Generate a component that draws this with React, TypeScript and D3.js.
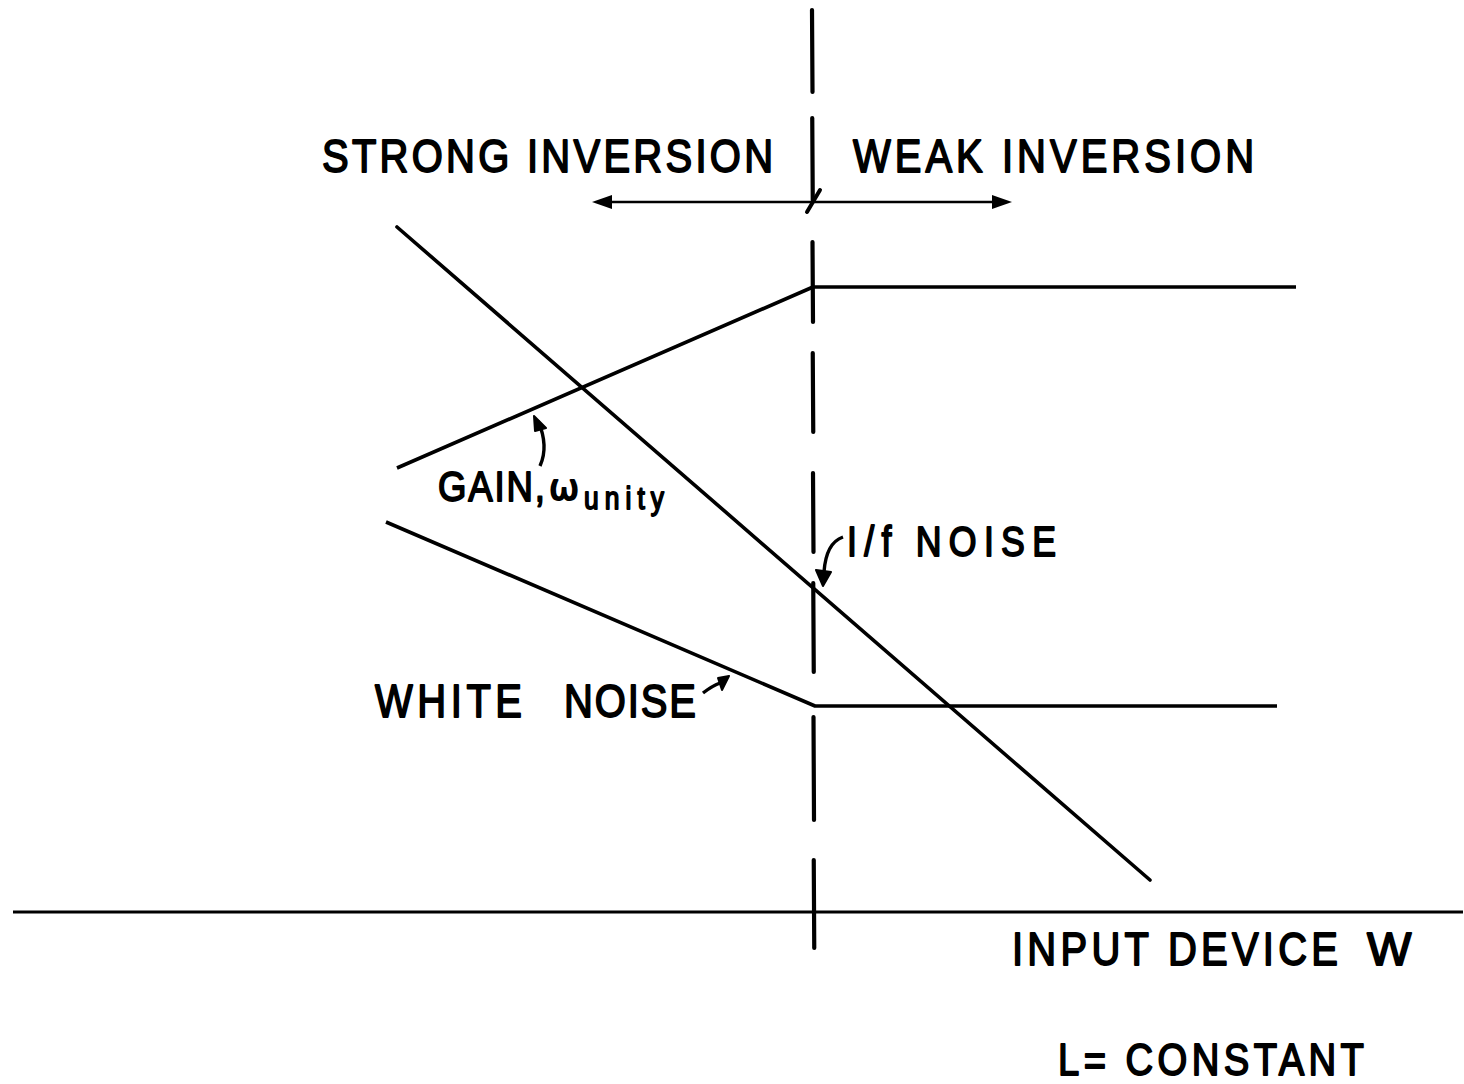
import React from "react";
import * as d3 from "d3";

// Schematic data: x = log(W) relative to the strong/weak inversion boundary, y = log(value)
const gainCurve = [
  { w: -4.16, v: 4.44 },
  { w: 0.0, v: 6.25 },
  { w: 4.83, v: 6.25 },
];
const flickerNoise = [
  { w: -4.16, v: 6.85 },
  { w: 3.37, v: 0.32 },
];
const whiteNoise = [
  { w: -4.27, v: 3.9 },
  { w: 0.02, v: 2.06 },
  { w: 4.64, v: 2.06 },
];
const boundaryDashes = [
  [9.02, 8.2],
  [7.94, 7.12],
  [6.7, 5.9],
  [5.59, 4.8],
  [4.39, 3.6],
  [3.29, 2.4],
  [1.95, 0.92],
  [0.52, -0.36],
];
const regionArrow = { from: -2.21, to: 1.99, v: 7.1 };
const axisExtent = [-8.0, 6.5];
const regionLabels = ["STRONG INVERSION", "WEAK INVERSION"];
const curveLabels = ["GAIN,", "\u03C9", "unity", "I/f NOISE", "WHITE NOISE"];
const axisLabels = ["INPUT DEVICE", "W", "L= CONSTANT"];

const W = 1464;
const H = 1084;
const ink = "#000";
const font = "'Liberation Sans', Arial, sans-serif";

function Label(props: {
  x: number;
  y: number;
  size: number;
  len: number;
  sx?: number;
  family?: string;
  children: string;
}) {
  const sx = props.sx ?? 0.85;
  return (
    <text
      transform={`translate(${props.x},${props.y}) scale(${sx},1)`}
      fontFamily={props.family ?? font}
      fontSize={props.size}
      fill={ink}
      stroke={ink}
      strokeWidth={1.8}
      strokeLinejoin="round"
      textLength={props.len / sx}
      lengthAdjust="spacing"
    >
      {props.children}
    </text>
  );
}

export default function App() {
  const x = d3.scaleLinear().domain([0, 1]).range([813, 913]);
  const y = d3.scaleLinear().domain([0, 1]).range([912, 812]);
  const line = d3
    .line<{ w: number; v: number }>()
    .x((d) => x(d.w))
    .y((d) => y(d.v));

  const ay = y(regionArrow.v);
  const ax0 = x(regionArrow.from);
  const ax1 = x(regionArrow.to);
  const bx = x(0);

  return (
    <svg
      width={W}
      height={H}
      viewBox={`0 0 ${W} ${H}`}
      style={{ position: "absolute", left: 0, top: 0, background: "#fff" }}
    >
      <rect x={0} y={0} width={W} height={H} fill="#fff" />
      {/* baseline */}
      <line
        x1={x(axisExtent[0])}
        x2={x(axisExtent[1])}
        y1={y(0)}
        y2={y(0)}
        stroke={ink}
        strokeWidth={3.2}
      />
      {/* boundary dashes */}
      {boundaryDashes.map((d, i) => (
        <line
          key={i}
          x1={bx - 1 + (i * 2) / 8}
          x2={bx - 1 + (i * 2) / 8 + 0.5}
          y1={y(d[0])}
          y2={y(d[1])}
          stroke={ink}
          strokeWidth={4.2}
          strokeLinecap="round"
        />
      ))}
      {/* slash on arrow line */}
      <line x1={bx + 7} y1={ay - 12} x2={bx - 6} y2={ay + 10} stroke={ink} strokeWidth={4} strokeLinecap="round" />
      {/* region arrow */}
      <line x1={ax0 + 10} x2={ax1 - 10} y1={ay} y2={ay} stroke={ink} strokeWidth={2.6} />
      <path d={`M${ax0},${ay} L${ax0 + 20},${ay - 7} L${ax0 + 20},${ay + 7} Z`} fill={ink} />
      <path d={`M${ax1},${ay} L${ax1 - 20},${ay - 7} L${ax1 - 20},${ay + 7} Z`} fill={ink} />

      {/* curves */}
      <path d={line(gainCurve) || ""} fill="none" stroke={ink} strokeWidth={3.6} strokeLinejoin="round" />
      <path d={line(flickerNoise) || ""} fill="none" stroke={ink} strokeWidth={3.6} strokeLinecap="round" />
      <path d={line(whiteNoise) || ""} fill="none" stroke={ink} strokeWidth={3.6} strokeLinejoin="round" />

      {/* region labels */}
      <Label x={322} y={172} size={47} len={451}>{regionLabels[0]}</Label>
      <Label x={853} y={172} size={47} len={401}>{regionLabels[1]}</Label>

      {/* gain label */}
      <Label x={438} y={501} size={43} len={107}>{curveLabels[0]}</Label>
      <Label x={549} y={500} size={36} len={33} sx={1} family="'DejaVu Sans', sans-serif">
        {curveLabels[1]}
      </Label>
      <Label x={584} y={509} size={31} len={80}>{curveLabels[2]}</Label>
      <path d="M540,466 Q549,446 538,421" fill="none" stroke={ink} strokeWidth={3.4} />
      <path d="M534,416 L546,428 L535,431 Z" fill={ink} stroke={ink} strokeWidth={2} strokeLinejoin="round" />

      {/* 1/f label */}
      <Label x={847} y={556} size={42} len={209}>{curveLabels[3]}</Label>
      <path d="M843,537 Q826,543 824,572" fill="none" stroke={ink} strokeWidth={3.4} />
      <path d="M823,586 L816,570 L831,572 Z" fill={ink} stroke={ink} strokeWidth={2} strokeLinejoin="round" />

      {/* white noise label */}
      <Label x={375} y={717} size={47} len={147}>{curveLabels[4].split(" ")[0]}</Label>
      <Label x={564} y={717} size={47} len={132}>{curveLabels[4].split(" ")[1]}</Label>
      <path d="M703,693 Q712,686 720,683" fill="none" stroke={ink} strokeWidth={3.4} />
      <path d="M729,676 L718,678 L722,690 Z" fill={ink} stroke={ink} strokeWidth={2} strokeLinejoin="round" />

      {/* axis labels */}
      <Label x={1012} y={965} size={47} len={326}>{axisLabels[0]}</Label>
      <Label x={1367} y={965} size={47} len={49} sx={1}>{axisLabels[1]}</Label>
      <Label x={1058} y={1075} size={45} len={306}>{axisLabels[2]}</Label>
    </svg>
  );
}
